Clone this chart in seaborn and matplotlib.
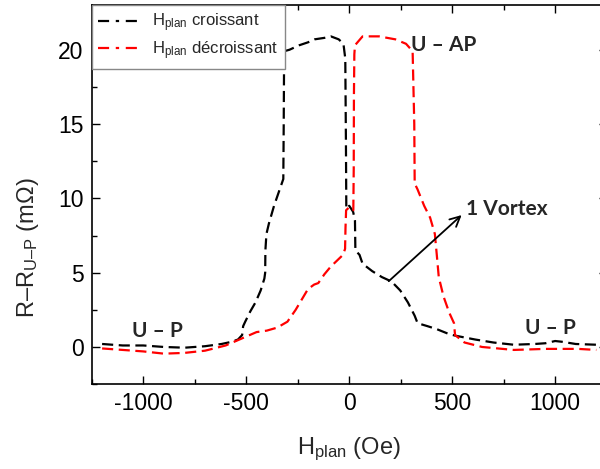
#Importing Modules

import pandas as pd
import matplotlib
matplotlib.use("Agg")
import matplotlib.pyplot as plt
from matplotlib.lines import Line2D
import seaborn as sns
import numpy as np

###

#Data

# H_plan croissant (black)
h_up = [-1200, -1100, -1000, -900, -800, -700, -620, -570, -540, -520, -515, -505,
        -480, -455, -430, -412, -408, -407, -402, -390, -365, -340, -320, -318,
        -316, -290, -243, -200, -168, -120, -89, -51, -28, -19, -16, -14,
        0, 19, 28, 30, 50, 65, 112, 159, 206, 248, 285, 318, 332, 380, 425,
        486, 519, 612, 700, 799, 900, 953, 1000, 1033, 1100, 1200]
r_up = [0.2, 0.1, 0.1, 0.0, -0.05, 0.05, 0.2, 0.35, 0.5, 0.8, 1.4, 1.7,
        2.4, 3.0, 3.8, 4.6, 5.0, 6.5, 7.6, 8.3, 9.5, 10.5, 11.3, 15.0,
        19.9, 20.0, 20.3, 20.5, 20.7, 20.8, 20.9, 20.7, 20.4, 19.4, 14.0, 9.3,
        9.5, 9.1, 8.5, 6.5, 6.2, 5.6, 5.1, 4.7, 4.4, 3.8, 3.0, 2.1, 1.6, 1.4, 1.2,
        0.86, 0.75, 0.5, 0.3, 0.15, 0.2, 0.25, 0.4, 0.35, 0.2, 0.15]

# H_plan decroissant (red)
h_down = [-1200, -1100, -1000, -900, -800, -700, -600, -550, -500, -450, -400,
          -350, -300, -260, -230, -200, -170, -150, -120, -90, -60, -30, -20,
          -18, -15, 0, 10, 20, 22, 23, 25, 28, 65, 145, 224, 276, 308, 316, 318,
          332, 364, 393, 416, 425, 435, 458, 486, 509, 514, 560, 645, 799, 953,
          1112, 1200]
r_down = [-0.1, -0.2, -0.3, -0.45, -0.4, -0.25, 0.1, 0.4, 0.7, 1.0, 1.1,
          1.3, 1.7, 2.5, 3.2, 3.9, 4.2, 4.3, 4.9, 5.4, 5.8, 6.2, 6.6,
          8.0, 9.2, 9.4, 9.3, 9.2, 12.0, 17.0, 19.7, 20.3, 20.9, 20.9, 20.7, 20.4, 19.9, 15.0, 11.0,
          10.6, 9.5, 8.7, 7.6, 6.25, 4.7, 3.4, 2.3, 1.6, 0.8, 0.3, 0.0, -0.2, -0.13,
          -0.13, -0.2]

x_ticks = [-1000, -500, 0, 500, 1000]
y_ticks = [0, 5, 10, 15, 20]

###

df_up = pd.DataFrame({"H": h_up, "R": r_up})
df_down = pd.DataFrame({"H": h_down, "R": r_down})

sns.set_theme(style="ticks")
plt.rcParams["font.family"] = ["Liberation Sans", "DejaVu Sans"]
plt.rcParams["mathtext.fontset"] = "custom"
plt.rcParams["mathtext.rm"] = "Liberation Sans"
plt.rcParams["mathtext.it"] = "Liberation Sans:italic"
plt.rcParams["axes.unicode_minus"] = False

fig = plt.figure(figsize=(6, 4.69), dpi=100)
ax = fig.add_axes([0.153, 0.181, 0.858, 0.808])

sns.lineplot(x="H", y="R", data=df_up, sort=False, estimator=None, ax=ax,
             color="black", linewidth=1.6, dashes=False)
sns.lineplot(x="H", y="R", data=df_down, sort=False, estimator=None, ax=ax,
             color="red", linewidth=1.6, dashes=False)
for ln in ax.lines:
    ln.set_linestyle((0, (5, 2.5)))

ax.set_xlim(-1200, 1200)
ax.set_ylim(-2, 23)
ax.set_xticks(x_ticks)
ax.set_yticks(y_ticks)
ax.set_xticks(np.arange(-1250, 1251, 250), minor=True)
ax.set_yticks(np.arange(-2.5, 23, 2.5), minor=True)
ax.tick_params(which="both", direction="in", top=True, right=True, width=1, colors="black")
ax.tick_params(which="major", length=6, labelsize=16.5, pad=6)
ax.tick_params(which="minor", length=3.5)
for s in ax.spines.values():
    s.set_linewidth(1.2)
    s.set_color("black")

ax.set_xlabel(r"H$_{\mathrm{plan}}$ (Oe)", fontsize=17)
ax.set_ylabel(r"R–R$_{\mathrm{U–P}}$ (m$\Omega$)", fontsize=17)
ax.xaxis.set_label_coords(0.5, -0.135)
ax.yaxis.set_label_coords(-0.099, 0.36)

handles = [Line2D([], [], color="black", linewidth=1.6, linestyle=(0, (5, 3, 1.5, 3))),
           Line2D([], [], color="red", linewidth=1.6, linestyle=(0, (5, 3, 1.5, 3)))]
leg = ax.legend(handles, [r"H$_{\mathrm{plan}}$ croissant", r"H$_{\mathrm{plan}}$ décroissant"],
                loc="upper left", borderaxespad=0, fontsize=12, fancybox=False,
                framealpha=1, edgecolor="#888888", handlelength=2.4, borderpad=0.4,
                labelspacing=0.3)
leg.get_frame().set_linewidth(1)

ann = dict(fontsize=15, fontweight="bold", family=["Lato", "DejaVu Sans"], ha="center", va="center")
ax.text(-930, 1.1, "U – P", **ann)
ax.text(977, 1.3, "U – P", **ann)
ax.text(458, 20.3, "U – AP", **ann)
ax.text(766, 9.3, "1 Vortex", **ann)
ax.annotate("", xy=(556, 9.0), xytext=(182, 4.3),
            arrowprops=dict(arrowstyle="->", color="black", lw=1.3, mutation_scale=18))

plt.savefig("out.png", dpi=100)
